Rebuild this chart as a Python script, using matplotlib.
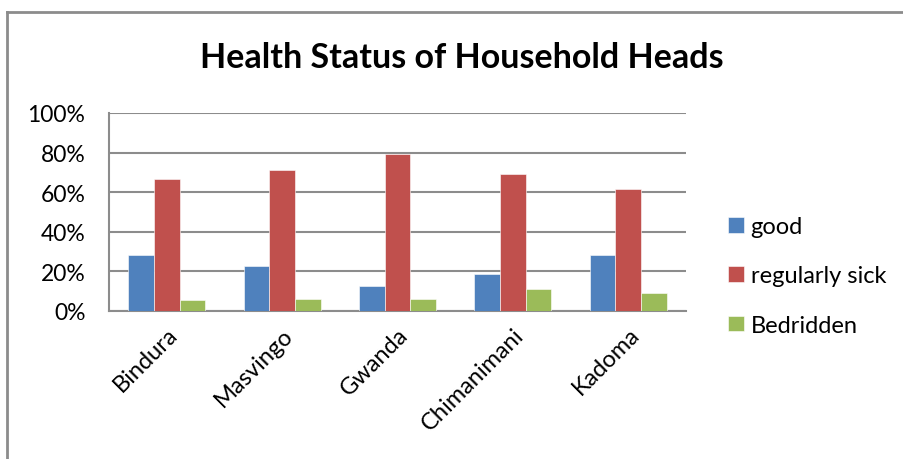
import matplotlib.pyplot as plt
import numpy as np
from matplotlib.lines import Line2D

districts = ["Bindura", "Masvingo", "Gwanda", "Chimanimani", "Kadoma"]
good = [28.2, 22.8, 12.7, 18.7, 28.3]
regularly_sick = [66.7, 71.2, 79.2, 69.3, 61.7]
bedridden = [5.5, 6.2, 6.3, 11.0, 9.0]
series_names = ["good", "regularly sick", "Bedridden"]
colors = ["#4F81BD", "#C0504D", "#9BBB59"]
yticks = [0, 20, 40, 60, 80, 100]


def main():
    plt.rcParams['font.family'] = ['Lato', 'DejaVu Sans']
    W, H = 904, 460
    fig = plt.figure(figsize=(W / 100, H / 100), dpi=100)
    ax = fig.add_axes([109 / W, 1 - 312 / H, (686 - 109) / W, (312 - 114) / H])

    x = np.arange(len(districts))
    bw = 1 / 4.5
    for i, (vals, name) in enumerate(zip([good, regularly_sick, bedridden], series_names)):
        ax.bar(x + (i - 1) * bw, vals, bw, color=colors[i], label=name, zorder=3,
               edgecolor='white', linewidth=0.4)

    ax.set_xlim(-0.5, len(districts) - 0.5)
    ax.set_ylim(0, 100)
    ax.set_yticks(yticks)
    ax.set_yticklabels([f"{v}%" for v in yticks], fontsize=16.5)
    ax.yaxis.grid(True, color='#8c8c8c', linewidth=1.5, zorder=0)
    ax.tick_params(axis='y', length=0, pad=17)
    ax.set_xticks(x)
    ax.set_xticklabels(districts, rotation=45, ha='right', rotation_mode='anchor',
                       fontsize=17)
    ax.tick_params(axis='x', length=0, pad=9)
    for s in ['top', 'right']:
        ax.spines[s].set_visible(False)
    for s in ['left', 'bottom']:
        ax.spines[s].set_color('#8c8c8c')
        ax.spines[s].set_linewidth(1.5)

    fig.text(462 / W, 1 - 58 / H, "Health Status of Household Heads", ha='center',
             va='center', fontsize=24.5, fontweight='bold')

    ax.legend(loc='center left', bbox_to_anchor=(707 / W, 1 - 277 / H),
              bbox_transform=fig.transFigure, frameon=False, fontsize=17,
              handlelength=0.65, handleheight=0.65, handletextpad=0.3,
              labelspacing=1.2)

    # outer chart border
    bx, by = 7 / W, 1 - 13 / H
    fig.add_artist(Line2D([bx, bx], [0, by], color='#8c8c8c', linewidth=2,
                          transform=fig.transFigure))
    fig.add_artist(Line2D([bx, 1], [by, by], color='#8c8c8c', linewidth=2,
                          transform=fig.transFigure))

    fig.savefig('out.png', dpi=100)


if __name__ == '__main__':
    main()
